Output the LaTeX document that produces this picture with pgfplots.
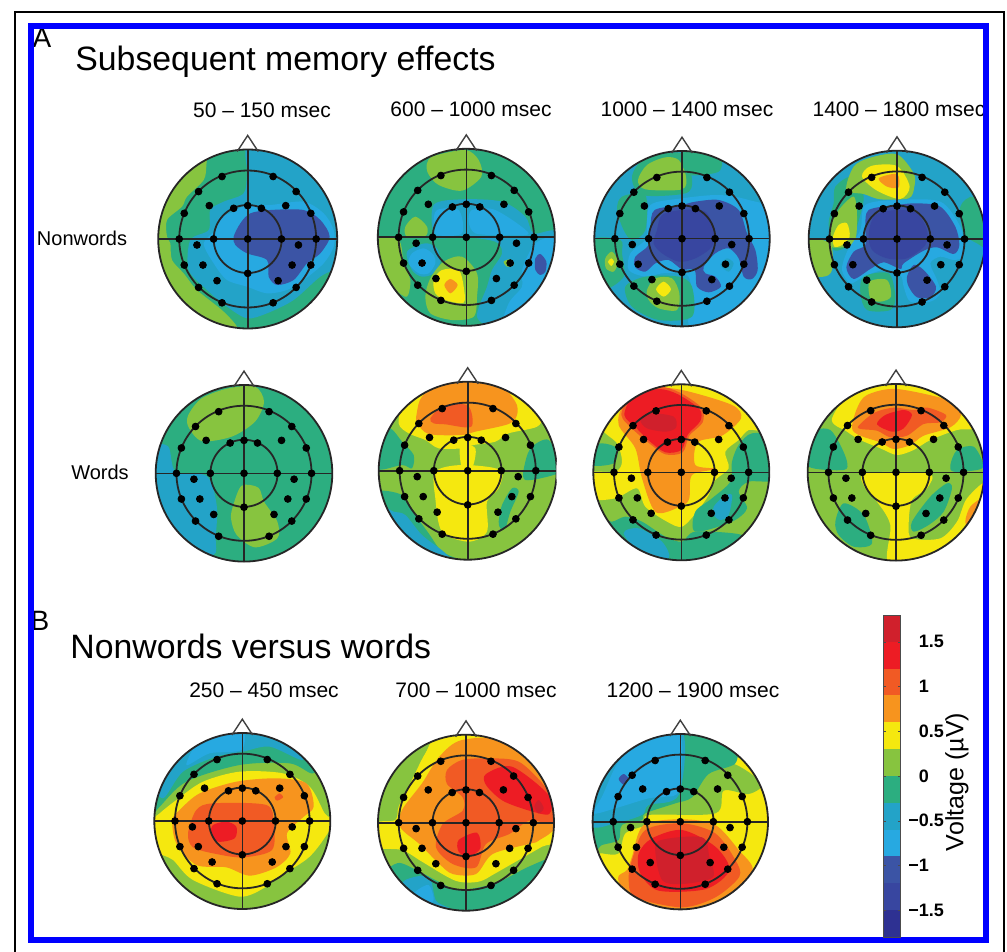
\documentclass[border=0pt]{standalone}
\usepackage{fontspec}
\setmainfont{Liberation Sans}
\usepackage{pgfplots}
\usepackage{pgfplotstable}
\pgfplotsset{compat=1.18}

% voltage bands, -1.8 to 1.8 in steps of 0.3
\definecolor{vN}{RGB}{46,49,146}
\definecolor{vB}{RGB}{56,70,160}
\definecolor{vC}{RGB}{59,84,165}
\definecolor{vL}{RGB}{39,169,225}
\definecolor{vT}{RGB}{35,163,200}
\definecolor{vG}{RGB}{44,174,128}
\definecolor{vg}{RGB}{135,196,63}
\definecolor{vY}{RGB}{245,232,15}
\definecolor{vO}{RGB}{247,148,30}
\definecolor{vR}{RGB}{241,90,36}
\definecolor{vr}{RGB}{237,28,36}
\definecolor{vD}{RGB}{208,32,44}

% electrode sites, unit head radius, y downwards
\pgfplotstableread{
x y
-.287 -.698
.284 -.698
-.549 -.530
.541 -.530
-.429 -.373
.425 -.373
-.709 -.287
.705 -.287
-.157 -.343
0 -.373
.153 -.343
-.765 0
-.381 0
0 0
.377 0
.765 0
-.567 .067
.567 .067
-.709 .291
.705 .291
-.5 .291
.496 .291
0 .384
-.343 .466
.340 .466
-.549 .541
.541 .541
-.287 .713
.284 .713
}\elec

\pgfplotstableread{
x y
1.03 0
.89 .515
.515 .89
0 1.03
-.515 .89
-.89 .515
-1.03 0
-.89 -.515
-.515 -.89
0 -1.03
.515 -.89
.89 -.515
}\rim

% contours are read at 3x, relative to each panel's corner (\ox,\oy)
\newcommand{\blob}[2]{
	\addplot[fill=#1,draw=none,smooth cycle,forget plot]
		table[row sep=\\,header=false,x expr={\ox+\thisrowno{0}/3},y expr={\oy+\thisrowno{1}/3}] {#2};
}
\newcommand{\base}[6]{
	\def\ox{#1}\def\oy{#2}
	\addplot[fill=#6,draw=none,smooth cycle,forget plot]
		table[x expr={#3+#5*\thisrow{x}},y expr={#4+#5*\thisrow{y}}] {\rim};
}
\newcommand{\headlines}[3]{
	% white ring hides what runs past the scalp
	\draw[white,line width=18.5pt] (axis cs:#1,#2) circle[radius={#3+18.5}];
	\draw[black!85,line width=.9pt] (axis cs:#1,#2) circle[radius=#3];
	\draw[black!85,line width=.9pt] (axis cs:#1,#2) circle[radius={#3*.765}];
	\draw[black!85,line width=.9pt] (axis cs:#1,#2) circle[radius={#3*.38}];
	\draw[black!85,line width=.8pt] (axis cs:{#1-#3},#2) -- (axis cs:{#1+#3},#2);
	\draw[black!85,line width=.8pt] (axis cs:#1,{#2-#3}) -- (axis cs:#1,{#2+#3});
	\draw[black!75,line width=.7pt] (axis cs:{#1-.118*#3},{#2-.977*#3}) -- (axis cs:#1,{#2-1.157*#3}) -- (axis cs:{#1+.118*#3},{#2-.977*#3});
	\addplot[only marks,mark=*,mark size=1.7pt,black,forget plot] table[x expr={#1+#3*\thisrow{x}},y expr={#2+#3*\thisrow{y}}] {\elec};
}
\newcommand{\sub}[3]{\node[font=\fontsize{10.5}{12}\selectfont] at (axis cs:#1,#2) {#3};}
\newcommand{\band}[3]{\addplot[fill=#1,draw=none,forget plot] coordinates {(0,#2) (1,#2) (1,#3) (0,#3)} -- cycle;}

\begin{document}
\begin{tikzpicture}
\path[use as bounding box] (0,0) rectangle (503.5pt,476pt);
\begin{axis}[
	at={(0,0)},anchor=south west,
	scale only axis,width=503.5pt,height=476pt,
	xmin=0,xmax=1007,ymin=0,ymax=952,y dir=reverse,
	hide axis
]
% 50-150 nonwords
\base{147}{130}{247.7}{239}{89.5}{vG}
\blob{vT}{305 40\\300 130\\290 190\\230 215\\190 240\\185 300\\130 330\\125 420\\180 480\\240 530\\300 565\\360 550\\440 510\\520 440\\590 400\\600 330\\590 150\\450 50\\}
\blob{vL}{205 300\\215 265\\260 245\\300 225\\370 225\\470 215\\530 250\\560 300\\560 350\\530 400\\470 450\\420 480\\360 490\\300 470\\240 450\\200 400\\170 340\\}
\blob{vC}{260 320\\280 280\\310 250\\370 240\\470 240\\520 270\\548 320\\520 370\\480 400\\440 450\\390 465\\365 440\\360 390\\300 370\\265 345\\}
\blob{vg}{175 60\\178 105\\170 150\\120 200\\105 230\\60 270\\60 320\\70 340\\75 390\\110 430\\150 480\\230 545\\270 595\\200 590\\60 490\\15 330\\40 170\\100 80\\}
\headlines{247.7}{239}{89.5}
% 600-1000 nonwords
\base{362}{130}{466.3}{237.3}{88.5}{vG}
\blob{vg}{195 100\\215 78\\310 60\\350 90\\358 140\\300 182\\230 165\\198 130\\}
\blob{vg}{130 290\\160 260\\195 290\\190 318\\135 320\\}
\blob{vg}{40 330\\110 330\\125 400\\145 450\\135 500\\100 480\\60 440\\30 400\\}
\blob{vT}{215 225\\300 208\\420 215\\490 260\\515 310\\590 310\\590 480\\500 585\\400 595\\345 560\\375 470\\390 420\\420 370\\400 335\\300 320\\220 320\\}
\blob{vL}{330 240\\400 240\\500 310\\420 315\\340 310\\320 275\\}
\blob{vL}{225 240\\290 240\\300 310\\225 315\\215 280\\}
\blob{vL}{480 420\\520 340\\585 330\\590 480\\500 580\\420 600\\440 520\\480 470\\}
\blob{vT}{135 365\\190 340\\225 355\\235 395\\215 430\\180 440\\150 420\\}
\blob{vL}{150 370\\185 355\\215 375\\220 400\\200 430\\170 430\\140 400\\}
\blob{vC}{520 385\\535 372\\553 395\\550 425\\535 435\\520 420\\}
\blob{vg}{190 500\\205 445\\245 395\\300 380\\345 430\\345 500\\335 560\\270 570\\205 550\\}
\blob{vY}{215 450\\240 420\\290 420\\305 470\\305 518\\250 510\\220 490\\}
\blob{vO}{247 465\\265 447\\287 465\\265 490\\}
\blob{vg}{425 395\\445 388\\455 405\\435 410\\}
\headlines{466.3}{237.3}{88.5}
% 1000-1400 nonwords
\base{582}{130}{682}{238.7}{87.7}{vT}
\blob{vL}{195 300\\205 225\\300 205\\410 195\\500 210\\590 250\\595 420\\520 560\\330 600\\330 490\\320 440\\300 430\\240 430\\190 440\\140 420\\145 370\\190 330\\}
\blob{vG}{120 200\\190 195\\190 300\\150 330\\125 300\\105 240\\}
\blob{vG}{305 62\\410 70\\410 125\\310 135\\300 100\\}
\blob{vG}{30 330\\115 330\\120 370\\125 440\\65 480\\30 440\\}
\blob{vG}{150 140\\190 85\\300 70\\330 150\\310 190\\180 195\\}
\blob{vg}{168 150\\195 105\\250 82\\290 90\\312 140\\300 178\\190 178\\}
\blob{vg}{70 385\\90 365\\108 395\\95 425\\72 415\\}
\blob{vY}{78 395\\88 385\\96 395\\88 408\\}
\blob{vG}{130 470\\190 440\\290 440\\330 470\\330 560\\230 570\\150 530\\}
\blob{vg}{195 480\\220 445\\270 445\\292 490\\285 540\\230 535\\200 510\\}
\blob{vY}{222 478\\245 455\\267 478\\245 500\\}
\blob{vC}{205 290\\218 240\\300 225\\340 215\\410 210\\470 240\\495 310\\520 360\\527 420\\510 447\\485 440\\470 385\\440 355\\400 370\\365 410\\370 430\\400 440\\417 470\\380 487\\345 470\\338 420\\300 418\\260 390\\220 400\\190 425\\160 412\\160 380\\200 345\\}
\blob{vB}{225 300\\240 255\\300 240\\370 245\\395 300\\390 350\\340 385\\290 395\\240 370\\215 340\\}
\blob{vT}{415 405\\435 385\\455 400\\440 425\\}
\headlines{682}{238.7}{87.7}
% 1400-1800 nonwords
\base{797}{130}{897}{239}{88.3}{vT}
\blob{vG}{490 230\\530 200\\590 250\\590 360\\540 340\\500 310\\}
\blob{vG}{115 170\\165 140\\200 200\\180 290\\165 340\\110 360\\95 280\\110 220\\}
\blob{vg}{148 180\\170 110\\220 83\\300 73\\350 130\\352 170\\335 205\\250 208\\200 192\\}
\blob{vY}{195 140\\222 108\\300 108\\338 170\\310 207\\240 182\\}
\blob{vO}{245 145\\300 132\\305 172\\270 170\\}
\blob{vg}{100 290\\125 240\\170 200\\180 260\\170 340\\100 350\\}
\blob{vY}{108 320\\125 285\\150 280\\158 320\\135 345\\112 350\\}
\blob{vg}{30 335\\100 340\\105 420\\80 440\\30 430\\}
\blob{vL}{190 300\\205 225\\300 210\\430 215\\490 290\\500 345\\500 380\\470 390\\430 380\\400 400\\420 450\\430 490\\400 515\\340 515\\320 470\\310 435\\260 420\\200 440\\160 460\\135 420\\150 365\\}
\blob{vC}{205 290\\215 240\\300 225\\360 220\\430 230\\475 290\\487 345\\470 372\\420 352\\380 362\\320 400\\310 417\\260 397\\220 417\\170 447\\148 412\\170 365\\205 345\\}
\blob{vC}{330 440\\350 405\\380 420\\417 470\\400 502\\360 502\\335 470\\}
\blob{vB}{215 310\\235 255\\300 240\\360 250\\390 300\\385 345\\330 385\\270 385\\225 360\\}
\blob{vG}{200 440\\275 430\\295 500\\280 540\\210 540\\190 490\\}
\blob{vg}{218 455\\270 450\\282 500\\250 515\\220 505\\}
\headlines{897}{239}{88.3}
% 50-150 words
\base{145}{365}{244}{473.3}{88.3}{vG}
\blob{vg}{130 150\\170 100\\250 70\\330 65\\357 110\\330 170\\260 215\\170 228\\130 185\\}
\blob{vg}{265 420\\290 362\\340 368\\357 410\\397 470\\397 520\\330 547\\275 510\\258 460\\}
\blob{vT}{20 250\\70 245\\92 320\\185 333\\215 420\\212 520\\205 570\\100 560\\15 400\\}
\headlines{244}{473.3}{88.3}
% 600-1000 words
\base{362}{365}{467.7}{470.7}{89}{vg}
\blob{vY}{110 175\\130 105\\230 30\\430 30\\530 150\\525 185\\440 205\\400 230\\335 240\\300 250\\230 250\\190 225\\140 205\\}
\blob{vY}{220 320\\300 300\\415 315\\410 370\\375 410\\375 500\\320 530\\240 500\\220 400\\}
\blob{vY}{295 240\\340 250\\330 310\\300 310\\}
\blob{vO}{165 140\\180 95\\240 55\\400 55\\460 110\\465 150\\440 177\\340 200\\300 210\\200 207\\165 172\\}
\blob{vR}{205 160\\245 122\\318 122\\328 185\\250 178\\215 175\\}
\blob{vG}{40 200\\85 190\\120 230\\155 270\\150 310\\120 300\\40 310\\}
\blob{vG}{490 290\\510 245\\560 225\\595 300\\590 325\\490 345\\}
\blob{vG}{410 470\\420 420\\450 370\\470 380\\445 440\\430 490\\415 490\\}
\blob{vG}{40 380\\120 390\\160 450\\200 505\\240 560\\300 590\\150 570\\50 450\\}
\blob{vT}{95 440\\130 450\\180 510\\245 560\\270 590\\200 570\\100 500\\70 430\\}
\headlines{467.7}{470.7}{89}
% 1000-1400 words
\base{582}{365}{681.3}{472.3}{88}{vg}
\blob{vY}{60 190\\100 130\\200 50\\420 50\\550 190\\500 195\\470 225\\430 260\\440 310\\400 345\\380 390\\345 440\\300 485\\255 470\\190 425\\165 370\\100 400\\20 400\\20 325\\100 320\\120 290\\105 235\\}
\blob{vO}{110 180\\125 120\\200 70\\300 75\\450 120\\477 160\\420 212\\347 232\\340 300\\402 312\\330 330\\322 400\\300 422\\222 442\\180 340\\160 250\\}
\blob{vR}{118 150\\150 88\\230 65\\292 82\\358 128\\362 172\\322 212\\302 262\\250 268\\198 232\\155 195\\}
\blob{vr}{127 150\\155 92\\230 72\\288 88\\352 132\\355 168\\318 208\\298 255\\250 262\\202 228\\162 188\\}
\blob{vD}{175 165\\205 145\\275 155\\282 188\\250 200\\195 190\\}
\blob{vG}{20 250\\60 235\\105 250\\95 295\\20 300\\}
\blob{vG}{450 290\\470 240\\510 205\\585 220\\585 340\\500 350\\470 380\\495 430\\450 470\\340 500\\340 440\\390 400\\445 350\\}
\blob{vT}{395 425\\425 395\\450 390\\440 450\\415 465\\395 450\\}
\blob{vG}{50 460\\90 470\\130 455\\180 470\\250 515\\300 530\\340 500\\480 510\\450 550\\300 600\\120 570\\}
\blob{vT}{125 505\\170 490\\240 530\\260 580\\180 570\\}
\headlines{681.3}{472.3}{88}
% 1400-1800 words
\base{797}{365}{896}{472.3}{88.3}{vg}
\blob{vY}{105 160\\200 50\\420 50\\555 180\\480 195\\400 225\\350 255\\300 270\\250 250\\190 225\\150 200\\}
\blob{vO}{165 190\\180 130\\210 90\\300 72\\470 110\\492 150\\460 187\\380 212\\340 240\\290 252\\250 232\\190 212\\}
\blob{vR}{185 182\\232 143\\290 128\\350 135\\392 128\\447 150\\430 172\\380 177\\330 212\\280 217\\240 197\\190 192\\}
\blob{vr}{240 178\\265 150\\320 135\\345 150\\320 190\\285 200\\}
\blob{vG}{35 240\\60 195\\100 195\\130 240\\150 290\\140 315\\35 305\\}
\blob{vG}{460 300\\480 255\\530 245\\560 300\\540 315\\470 320\\}
\blob{vY}{205 325\\395 325\\390 370\\345 405\\335 480\\345 520\\430 520\\480 470\\510 400\\575 350\\575 480\\470 585\\280 605\\280 480\\240 410\\205 370\\}
\blob{vG}{115 470\\140 415\\200 450\\225 535\\170 545\\125 510\\}
\blob{vG}{345 470\\400 395\\450 355\\465 370\\440 440\\395 480\\350 500\\}
\blob{vO}{505 470\\520 425\\560 400\\560 460\\520 500\\}
\headlines{896}{472.3}{88.3}
% 250-450
\base{143}{710}{242.3}{821}{88}{vg}
\blob{vG}{20 320\\50 290\\130 215\\290 165\\440 160\\510 190\\530 130\\300 50\\70 120\\}
\blob{vT}{60 265\\120 185\\220 140\\300 125\\380 110\\480 150\\440 70\\300 50\\120 90\\30 200\\}
\blob{vL}{130 165\\200 130\\295 120\\295 60\\180 80\\}
\blob{vY}{35 330\\50 310\\100 270\\180 215\\290 185\\420 190\\500 230\\545 310\\570 340\\500 440\\390 510\\370 530\\290 560\\150 510\\90 450\\40 420\\}
\blob{vO}{110 300\\170 250\\280 215\\400 205\\490 220\\512 290\\480 322\\432 370\\442 430\\400 472\\320 497\\250 472\\160 465\\100 400\\88 330\\}
\blob{vR}{135 370\\160 300\\210 280\\370 285\\392 340\\387 420\\300 442\\220 432\\150 412\\}
\blob{vr}{210 345\\250 335\\280 350\\275 385\\225 395\\205 370\\}
\blob{vR}{395 262\\410 250\\420 262\\402 272\\}
\headlines{242.3}{821}{88}
% 700-1000
\base{362}{710}{466}{822.7}{88}{vg}
\blob{vY}{110 290\\145 220\\190 130\\240 70\\440 70\\575 190\\590 380\\540 410\\470 450\\400 490\\350 515\\280 512\\180 455\\120 420\\40 410\\40 340\\100 330\\}
\blob{vO}{120 300\\180 220\\232 140\\300 90\\450 90\\570 190\\585 340\\530 392\\500 402\\392 432\\342 492\\272 492\\232 462\\172 402\\115 352\\}
\blob{vR}{255 180\\300 150\\380 145\\470 155\\545 225\\590 300\\570 340\\502 332\\442 372\\372 402\\342 472\\272 462\\222 412\\242 342\\302 302\\302 262\\255 222\\}
\blob{vr}{372 192\\450 170\\560 255\\562 312\\502 302\\422 272\\372 225\\}
\blob{vD}{517 290\\530 270\\545 295\\530 310\\}
\blob{vr}{290 390\\345 368\\355 415\\320 440\\290 425\\}
\blob{vG}{50 440\\80 470\\120 460\\230 515\\290 540\\400 520\\500 470\\570 450\\500 570\\310 605\\130 570\\}
\blob{vT}{130 510\\200 500\\222 572\\262 595\\170 585\\110 550\\}
\blob{vL}{160 545\\200 525\\215 570\\190 585\\150 570\\}
\headlines{466}{822.7}{88}
% 1200-1900
\base{582}{710}{680.3}{821.7}{87.7}{vY}
\blob{vg}{40 300\\200 280\\380 190\\450 160\\540 220\\500 252\\425 242\\400 310\\200 315\\190 345\\130 370\\110 430\\60 430\\30 420\\}
\blob{vG}{30 420\\60 405\\110 390\\120 345\\180 330\\190 310\\280 280\\330 262\\380 192\\460 160\\450 100\\290 60\\120 90\\30 200\\}
\blob{vT}{25 345\\100 340\\180 315\\200 285\\290 255\\298 60\\120 90\\30 200\\}
\blob{vL}{35 310\\60 260\\130 130\\290 70\\290 240\\250 260\\200 265\\100 295\\}
\blob{vC}{110 207\\125 192\\140 207\\125 224\\}
\blob{vO}{135 480\\150 440\\185 345\\300 328\\400 345\\470 420\\512 482\\440 570\\300 610\\150 580\\108 505\\}
\blob{vR}{140 510\\150 450\\190 360\\300 340\\400 370\\460 450\\472 500\\400 562\\300 592\\160 562\\}
\blob{vr}{170 430\\210 385\\300 360\\400 410\\442 480\\372 537\\230 542\\175 490\\}
\blob{vD}{222 442\\232 392\\360 382\\382 442\\392 502\\300 522\\242 512\\}
\headlines{680.3}{821.7}{87.7}

\node[font=\fontsize{16.9}{20}\selectfont,anchor=west,inner sep=0pt] at (axis cs:75,62) {Subsequent memory effects};
\node[font=\fontsize{16.9}{20}\selectfont,anchor=west,inner sep=0pt] at (axis cs:70,646) {Nonwords versus words};
\node[font=\fontsize{14}{16}\selectfont] at (axis cs:42,38) {A};
\node[font=\fontsize{14}{16}\selectfont] at (axis cs:40,621) {B};
\sub{262}{110}{50 – 150 msec}
\sub{471}{109}{600 – 1000 msec}
\sub{687}{109}{1000 – 1400 msec}
\sub{899}{109}{1400 – 1800 msec}
\sub{264}{690}{250 – 450 msec}
\sub{476}{690}{700 – 1000 msec}
\sub{693}{690}{1200 – 1900 msec}
\node[font=\fontsize{10}{12}\selectfont] at (axis cs:82,238) {Nonwords};
\node[font=\fontsize{10}{12}\selectfont] at (axis cs:100,472) {Words};
\node[font=\fontsize{12.5}{14}\selectfont,rotate=90] at (axis cs:957,782) {Voltage (µV)};

% page frames
\draw[black,line width=.8pt] (axis cs:15,952) -- (axis cs:15,12) -- (axis cs:1004,12) -- (axis cs:1004,952);
\draw[blue,line width=2.8pt] (axis cs:31,26) rectangle (axis cs:986,940);
\end{axis}
\begin{axis}[
	at={(441.5pt,7.5pt)},anchor=south west,
	scale only axis,width=8.9pt,height=161pt,
	xmin=0,xmax=1,ymin=-1.8,ymax=1.8,
	axis line style={black!70,line width=.4pt},
	xtick=\empty,
	ytick={-1.5,-1,-.5,0,.5,1,1.5},
	yticklabels={\llap{−}1.5,\llap{−}1,\llap{−}0.5,0,0.5,1,1.5},
	yticklabel pos=right,
	y tick label style={anchor=west,xshift=5.5pt,font=\bfseries\fontsize{9}{10}\selectfont},
	tick style={black!70},major tick length=1.5pt,
	axis on top
]
\band{vN}{-1.8}{-1.5}
\band{vB}{-1.5}{-1.2}
\band{vC}{-1.2}{-.9}
\band{vL}{-.9}{-.6}
\band{vT}{-.6}{-.3}
\band{vG}{-.3}{0}
\band{vg}{0}{.3}
\band{vY}{.3}{.6}
\band{vO}{.6}{.9}
\band{vR}{.9}{1.2}
\band{vr}{1.2}{1.5}
\band{vD}{1.5}{1.8}
\end{axis}
\end{tikzpicture}
\end{document}
